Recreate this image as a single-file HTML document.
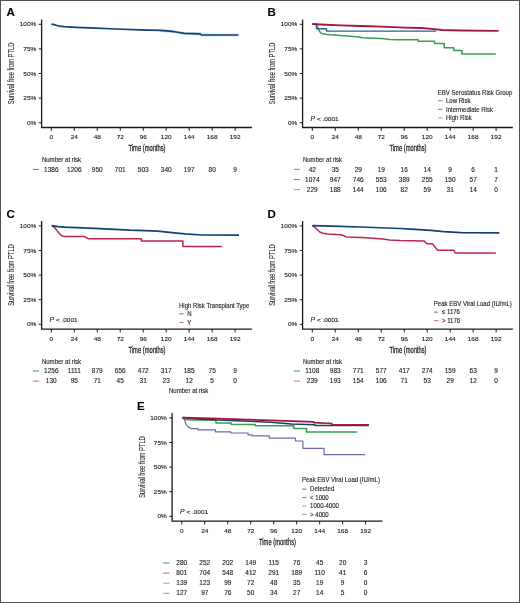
<!DOCTYPE html>
<html><head><meta charset="utf-8"><style>
html,body{margin:0;padding:0;background:#fff;}
svg{display:block;will-change:transform;}
text{font-family:"Liberation Sans", sans-serif;}
.s text{stroke:#1c1c1c;stroke-width:0.12px;}
</style></head><body>
<svg class="s" width="520" height="603" viewBox="0 0 520 603" font-family='"Liberation Sans", sans-serif'>
<rect x="0" y="0" width="520" height="603" fill="#fff"/>
<g transform="translate(0,0)">
<text x="6.5" y="16.2" font-size="11.5" font-weight="bold" fill="#000">A</text>
<text transform="translate(14,73.4) rotate(-90) scale(0.68,1)" text-anchor="middle" font-size="8.5" fill="#222" style="stroke-width:0.1px;stroke:#333">Survival free from PTLD</text>
<path d="M41.6,19.4 V127.5 H251.9" fill="none" stroke="#1a1a1a" stroke-width="1.3"/>
<line x1="38.8" x2="41.6" y1="24.3" y2="24.3" stroke="#1a1a1a" stroke-width="1"/>
<text transform="translate(36.2,26.4) scale(1.06,1)" text-anchor="end" font-size="6.1" fill="#1c1c1c">100%</text>
<line x1="38.8" x2="41.6" y1="48.9" y2="48.9" stroke="#1a1a1a" stroke-width="1"/>
<text transform="translate(36.2,51) scale(1.06,1)" text-anchor="end" font-size="6.1" fill="#1c1c1c">75%</text>
<line x1="38.8" x2="41.6" y1="73.5" y2="73.5" stroke="#1a1a1a" stroke-width="1"/>
<text transform="translate(36.2,75.6) scale(1.06,1)" text-anchor="end" font-size="6.1" fill="#1c1c1c">50%</text>
<line x1="38.8" x2="41.6" y1="98.1" y2="98.1" stroke="#1a1a1a" stroke-width="1"/>
<text transform="translate(36.2,100.2) scale(1.06,1)" text-anchor="end" font-size="6.1" fill="#1c1c1c">25%</text>
<line x1="38.8" x2="41.6" y1="122.7" y2="122.7" stroke="#1a1a1a" stroke-width="1"/>
<text transform="translate(36.2,124.8) scale(1.06,1)" text-anchor="end" font-size="6.1" fill="#1c1c1c">0%</text>
<line x1="51.3" x2="51.3" y1="127.5" y2="130.8" stroke="#1a1a1a" stroke-width="1"/>
<text transform="translate(51.3,139.2) scale(1.06,1)" text-anchor="middle" font-size="6.1" fill="#1c1c1c">0</text>
<line x1="74.28" x2="74.28" y1="127.5" y2="130.8" stroke="#1a1a1a" stroke-width="1"/>
<text transform="translate(74.28,139.2) scale(1.06,1)" text-anchor="middle" font-size="6.1" fill="#1c1c1c">24</text>
<line x1="97.26" x2="97.26" y1="127.5" y2="130.8" stroke="#1a1a1a" stroke-width="1"/>
<text transform="translate(97.26,139.2) scale(1.06,1)" text-anchor="middle" font-size="6.1" fill="#1c1c1c">48</text>
<line x1="120.24" x2="120.24" y1="127.5" y2="130.8" stroke="#1a1a1a" stroke-width="1"/>
<text transform="translate(120.24,139.2) scale(1.06,1)" text-anchor="middle" font-size="6.1" fill="#1c1c1c">72</text>
<line x1="143.22" x2="143.22" y1="127.5" y2="130.8" stroke="#1a1a1a" stroke-width="1"/>
<text transform="translate(143.22,139.2) scale(1.06,1)" text-anchor="middle" font-size="6.1" fill="#1c1c1c">96</text>
<line x1="166.2" x2="166.2" y1="127.5" y2="130.8" stroke="#1a1a1a" stroke-width="1"/>
<text transform="translate(166.2,139.2) scale(1.06,1)" text-anchor="middle" font-size="6.1" fill="#1c1c1c">120</text>
<line x1="189.18" x2="189.18" y1="127.5" y2="130.8" stroke="#1a1a1a" stroke-width="1"/>
<text transform="translate(189.18,139.2) scale(1.06,1)" text-anchor="middle" font-size="6.1" fill="#1c1c1c">144</text>
<line x1="212.16" x2="212.16" y1="127.5" y2="130.8" stroke="#1a1a1a" stroke-width="1"/>
<text transform="translate(212.16,139.2) scale(1.06,1)" text-anchor="middle" font-size="6.1" fill="#1c1c1c">168</text>
<line x1="235.14" x2="235.14" y1="127.5" y2="130.8" stroke="#1a1a1a" stroke-width="1"/>
<text transform="translate(235.14,139.2) scale(1.06,1)" text-anchor="middle" font-size="6.1" fill="#1c1c1c">192</text>
<text transform="translate(147,151.2) scale(0.68,1)" text-anchor="middle" font-size="8.5" fill="#222" style="stroke-width:0.25px;stroke:#222">Time (months)</text>
<path d="M160,30.4 L172,31.4 L176,32 L184.4,33.4 L200,33.9 L201.3,34.8 L238.5,35" fill="none" stroke="#cfe0ef" stroke-width="3.2" stroke-linejoin="round"/>
<path d="M51.4,24.2 L54,24.6 L57,25.5 L60,26.2 L64,26.7 L76,27.4 L96,28.2 L116,29 L140,29.8 L160,30.4 L172,31.4 L176,32 L184.4,33.4 L200,33.9 L201.3,34.8 L238.5,35" fill="none" stroke="#0f4377" stroke-width="1.7" stroke-linejoin="round"/>
<text transform="translate(41.9,161.9) scale(0.93,1)" font-size="6.5" fill="#1c1c1c">Number at risk</text>
<line x1="32.8" x2="38.9" y1="169.4" y2="169.4" stroke="#6384a6" stroke-width="1.1"/>
<text x="51.3" y="171.6" text-anchor="middle" font-size="6.5" fill="#1c1c1c">1386</text>
<text x="74.28" y="171.6" text-anchor="middle" font-size="6.5" fill="#1c1c1c">1206</text>
<text x="97.26" y="171.6" text-anchor="middle" font-size="6.5" fill="#1c1c1c">950</text>
<text x="120.24" y="171.6" text-anchor="middle" font-size="6.5" fill="#1c1c1c">701</text>
<text x="143.22" y="171.6" text-anchor="middle" font-size="6.5" fill="#1c1c1c">503</text>
<text x="166.2" y="171.6" text-anchor="middle" font-size="6.5" fill="#1c1c1c">340</text>
<text x="189.18" y="171.6" text-anchor="middle" font-size="6.5" fill="#1c1c1c">197</text>
<text x="212.16" y="171.6" text-anchor="middle" font-size="6.5" fill="#1c1c1c">80</text>
<text x="235.14" y="171.6" text-anchor="middle" font-size="6.5" fill="#1c1c1c">9</text>
</g>
<g transform="translate(261,0)">
<text x="6.5" y="16.0" font-size="11.5" font-weight="bold" fill="#000">B</text>
<text transform="translate(14,73.4) rotate(-90) scale(0.68,1)" text-anchor="middle" font-size="8.5" fill="#222" style="stroke-width:0.1px;stroke:#333">Survival free from PTLD</text>
<path d="M41.6,19.4 V127.5 H251.9" fill="none" stroke="#1a1a1a" stroke-width="1.3"/>
<line x1="38.8" x2="41.6" y1="24.3" y2="24.3" stroke="#1a1a1a" stroke-width="1"/>
<text transform="translate(36.2,26.4) scale(1.06,1)" text-anchor="end" font-size="6.1" fill="#1c1c1c">100%</text>
<line x1="38.8" x2="41.6" y1="48.9" y2="48.9" stroke="#1a1a1a" stroke-width="1"/>
<text transform="translate(36.2,51) scale(1.06,1)" text-anchor="end" font-size="6.1" fill="#1c1c1c">75%</text>
<line x1="38.8" x2="41.6" y1="73.5" y2="73.5" stroke="#1a1a1a" stroke-width="1"/>
<text transform="translate(36.2,75.6) scale(1.06,1)" text-anchor="end" font-size="6.1" fill="#1c1c1c">50%</text>
<line x1="38.8" x2="41.6" y1="98.1" y2="98.1" stroke="#1a1a1a" stroke-width="1"/>
<text transform="translate(36.2,100.2) scale(1.06,1)" text-anchor="end" font-size="6.1" fill="#1c1c1c">25%</text>
<line x1="38.8" x2="41.6" y1="122.7" y2="122.7" stroke="#1a1a1a" stroke-width="1"/>
<text transform="translate(36.2,124.8) scale(1.06,1)" text-anchor="end" font-size="6.1" fill="#1c1c1c">0%</text>
<line x1="51.3" x2="51.3" y1="127.5" y2="130.8" stroke="#1a1a1a" stroke-width="1"/>
<text transform="translate(51.3,139.2) scale(1.06,1)" text-anchor="middle" font-size="6.1" fill="#1c1c1c">0</text>
<line x1="74.28" x2="74.28" y1="127.5" y2="130.8" stroke="#1a1a1a" stroke-width="1"/>
<text transform="translate(74.28,139.2) scale(1.06,1)" text-anchor="middle" font-size="6.1" fill="#1c1c1c">24</text>
<line x1="97.26" x2="97.26" y1="127.5" y2="130.8" stroke="#1a1a1a" stroke-width="1"/>
<text transform="translate(97.26,139.2) scale(1.06,1)" text-anchor="middle" font-size="6.1" fill="#1c1c1c">48</text>
<line x1="120.24" x2="120.24" y1="127.5" y2="130.8" stroke="#1a1a1a" stroke-width="1"/>
<text transform="translate(120.24,139.2) scale(1.06,1)" text-anchor="middle" font-size="6.1" fill="#1c1c1c">72</text>
<line x1="143.22" x2="143.22" y1="127.5" y2="130.8" stroke="#1a1a1a" stroke-width="1"/>
<text transform="translate(143.22,139.2) scale(1.06,1)" text-anchor="middle" font-size="6.1" fill="#1c1c1c">96</text>
<line x1="166.2" x2="166.2" y1="127.5" y2="130.8" stroke="#1a1a1a" stroke-width="1"/>
<text transform="translate(166.2,139.2) scale(1.06,1)" text-anchor="middle" font-size="6.1" fill="#1c1c1c">120</text>
<line x1="189.18" x2="189.18" y1="127.5" y2="130.8" stroke="#1a1a1a" stroke-width="1"/>
<text transform="translate(189.18,139.2) scale(1.06,1)" text-anchor="middle" font-size="6.1" fill="#1c1c1c">144</text>
<line x1="212.16" x2="212.16" y1="127.5" y2="130.8" stroke="#1a1a1a" stroke-width="1"/>
<text transform="translate(212.16,139.2) scale(1.06,1)" text-anchor="middle" font-size="6.1" fill="#1c1c1c">168</text>
<line x1="235.14" x2="235.14" y1="127.5" y2="130.8" stroke="#1a1a1a" stroke-width="1"/>
<text transform="translate(235.14,139.2) scale(1.06,1)" text-anchor="middle" font-size="6.1" fill="#1c1c1c">192</text>
<text transform="translate(147,151.2) scale(0.68,1)" text-anchor="middle" font-size="8.5" fill="#222" style="stroke-width:0.25px;stroke:#222">Time (months)</text>
<path d="M51.3,24.2 L54,24.3 L55.5,24.8 L56.5,27 L57.5,29.4 L59.4,32.7 L61.3,33.7 L65,34.3 L69,34.8 L82.5,35.8 L97.8,37.1 L101.7,37.7 L120.9,38.5 L128.6,39.4 L139,39.7 L157.3,39.7 L157.3,41.3 L173.6,41.3 L173.6,43.5 L183.2,43.5 L183.2,47.7 L192.8,47.7 L192.8,50.6 L200.9,50.6 L200.9,54 L234.8,54" fill="none" stroke="#34a04c" stroke-width="1.5" stroke-linejoin="round"/>
<path d="M51.3,24.2 L55.5,24.2 L55.5,28.7 L65.5,28.7 L65.5,31.1 L175,31.1" fill="none" stroke="#2c5d94" stroke-width="1.4" stroke-linejoin="round"/>
<path d="M51.3,24 L60,24.5 L80,25.3 L100,26 L120,26.7 L144,27.6 L160,28 L168,28.7 L181.3,30 L200,30.5 L237.5,30.8" fill="none" stroke="#a5163b" stroke-width="1.8" stroke-linejoin="round"/>
<text transform="translate(49.6,120.7) scale(1.06,1)" font-size="6.1" fill="#1c1c1c"><tspan font-style="italic" font-size="6.4">P</tspan> &lt; .0001</text>
<text transform="translate(176.8,94.8) scale(0.93,1)" font-size="6.5" fill="#1c1c1c">EBV Serostatus Risk Group</text>
<line x1="177" x2="181.4" y1="100.7" y2="100.7" stroke="#7595b9" stroke-width="1.1"/>
<text transform="translate(185,103) scale(0.93,1)" font-size="6.5" fill="#1c1c1c">Low Risk</text>
<line x1="177" x2="181.4" y1="109.3" y2="109.3" stroke="#c4677f" stroke-width="1.1"/>
<text transform="translate(185,111.6) scale(0.93,1)" font-size="6.5" fill="#1c1c1c">Intermediate Risk</text>
<line x1="177" x2="181.4" y1="117.9" y2="117.9" stroke="#7bc18a" stroke-width="1.1"/>
<text transform="translate(185,120.2) scale(0.93,1)" font-size="6.5" fill="#1c1c1c">High Risk</text>
<text transform="translate(41.9,161.9) scale(0.93,1)" font-size="6.5" fill="#1c1c1c">Number at risk</text>
<line x1="32.8" x2="38.9" y1="169.4" y2="169.4" stroke="#7595b9" stroke-width="1.1"/>
<text x="51.3" y="171.6" text-anchor="middle" font-size="6.5" fill="#1c1c1c">42</text>
<text x="74.28" y="171.6" text-anchor="middle" font-size="6.5" fill="#1c1c1c">35</text>
<text x="97.26" y="171.6" text-anchor="middle" font-size="6.5" fill="#1c1c1c">29</text>
<text x="120.24" y="171.6" text-anchor="middle" font-size="6.5" fill="#1c1c1c">19</text>
<text x="143.22" y="171.6" text-anchor="middle" font-size="6.5" fill="#1c1c1c">16</text>
<text x="166.2" y="171.6" text-anchor="middle" font-size="6.5" fill="#1c1c1c">14</text>
<text x="189.18" y="171.6" text-anchor="middle" font-size="6.5" fill="#1c1c1c">9</text>
<text x="212.16" y="171.6" text-anchor="middle" font-size="6.5" fill="#1c1c1c">6</text>
<text x="235.14" y="171.6" text-anchor="middle" font-size="6.5" fill="#1c1c1c">1</text>
<line x1="32.8" x2="38.9" y1="179.5" y2="179.5" stroke="#c4677f" stroke-width="1.1"/>
<text x="51.3" y="181.7" text-anchor="middle" font-size="6.5" fill="#1c1c1c">1074</text>
<text x="74.28" y="181.7" text-anchor="middle" font-size="6.5" fill="#1c1c1c">947</text>
<text x="97.26" y="181.7" text-anchor="middle" font-size="6.5" fill="#1c1c1c">746</text>
<text x="120.24" y="181.7" text-anchor="middle" font-size="6.5" fill="#1c1c1c">553</text>
<text x="143.22" y="181.7" text-anchor="middle" font-size="6.5" fill="#1c1c1c">389</text>
<text x="166.2" y="181.7" text-anchor="middle" font-size="6.5" fill="#1c1c1c">255</text>
<text x="189.18" y="181.7" text-anchor="middle" font-size="6.5" fill="#1c1c1c">150</text>
<text x="212.16" y="181.7" text-anchor="middle" font-size="6.5" fill="#1c1c1c">57</text>
<text x="235.14" y="181.7" text-anchor="middle" font-size="6.5" fill="#1c1c1c">7</text>
<line x1="32.8" x2="38.9" y1="189.6" y2="189.6" stroke="#7bc18a" stroke-width="1.1"/>
<text x="51.3" y="191.8" text-anchor="middle" font-size="6.5" fill="#1c1c1c">229</text>
<text x="74.28" y="191.8" text-anchor="middle" font-size="6.5" fill="#1c1c1c">188</text>
<text x="97.26" y="191.8" text-anchor="middle" font-size="6.5" fill="#1c1c1c">144</text>
<text x="120.24" y="191.8" text-anchor="middle" font-size="6.5" fill="#1c1c1c">106</text>
<text x="143.22" y="191.8" text-anchor="middle" font-size="6.5" fill="#1c1c1c">82</text>
<text x="166.2" y="191.8" text-anchor="middle" font-size="6.5" fill="#1c1c1c">59</text>
<text x="189.18" y="191.8" text-anchor="middle" font-size="6.5" fill="#1c1c1c">31</text>
<text x="212.16" y="191.8" text-anchor="middle" font-size="6.5" fill="#1c1c1c">14</text>
<text x="235.14" y="191.8" text-anchor="middle" font-size="6.5" fill="#1c1c1c">0</text>
</g>
<g transform="translate(0,201.6)">
<text x="6.5" y="16.6" font-size="11.5" font-weight="bold" fill="#000">C</text>
<text transform="translate(14,73.4) rotate(-90) scale(0.68,1)" text-anchor="middle" font-size="8.5" fill="#222" style="stroke-width:0.1px;stroke:#333">Survival free from PTLD</text>
<path d="M41.6,19.4 V127.5 H251.9" fill="none" stroke="#1a1a1a" stroke-width="1.3"/>
<line x1="38.8" x2="41.6" y1="24.3" y2="24.3" stroke="#1a1a1a" stroke-width="1"/>
<text transform="translate(36.2,26.4) scale(1.06,1)" text-anchor="end" font-size="6.1" fill="#1c1c1c">100%</text>
<line x1="38.8" x2="41.6" y1="48.9" y2="48.9" stroke="#1a1a1a" stroke-width="1"/>
<text transform="translate(36.2,51) scale(1.06,1)" text-anchor="end" font-size="6.1" fill="#1c1c1c">75%</text>
<line x1="38.8" x2="41.6" y1="73.5" y2="73.5" stroke="#1a1a1a" stroke-width="1"/>
<text transform="translate(36.2,75.6) scale(1.06,1)" text-anchor="end" font-size="6.1" fill="#1c1c1c">50%</text>
<line x1="38.8" x2="41.6" y1="98.1" y2="98.1" stroke="#1a1a1a" stroke-width="1"/>
<text transform="translate(36.2,100.2) scale(1.06,1)" text-anchor="end" font-size="6.1" fill="#1c1c1c">25%</text>
<line x1="38.8" x2="41.6" y1="122.7" y2="122.7" stroke="#1a1a1a" stroke-width="1"/>
<text transform="translate(36.2,124.8) scale(1.06,1)" text-anchor="end" font-size="6.1" fill="#1c1c1c">0%</text>
<line x1="51.3" x2="51.3" y1="127.5" y2="130.8" stroke="#1a1a1a" stroke-width="1"/>
<text transform="translate(51.3,139.2) scale(1.06,1)" text-anchor="middle" font-size="6.1" fill="#1c1c1c">0</text>
<line x1="74.28" x2="74.28" y1="127.5" y2="130.8" stroke="#1a1a1a" stroke-width="1"/>
<text transform="translate(74.28,139.2) scale(1.06,1)" text-anchor="middle" font-size="6.1" fill="#1c1c1c">24</text>
<line x1="97.26" x2="97.26" y1="127.5" y2="130.8" stroke="#1a1a1a" stroke-width="1"/>
<text transform="translate(97.26,139.2) scale(1.06,1)" text-anchor="middle" font-size="6.1" fill="#1c1c1c">48</text>
<line x1="120.24" x2="120.24" y1="127.5" y2="130.8" stroke="#1a1a1a" stroke-width="1"/>
<text transform="translate(120.24,139.2) scale(1.06,1)" text-anchor="middle" font-size="6.1" fill="#1c1c1c">72</text>
<line x1="143.22" x2="143.22" y1="127.5" y2="130.8" stroke="#1a1a1a" stroke-width="1"/>
<text transform="translate(143.22,139.2) scale(1.06,1)" text-anchor="middle" font-size="6.1" fill="#1c1c1c">96</text>
<line x1="166.2" x2="166.2" y1="127.5" y2="130.8" stroke="#1a1a1a" stroke-width="1"/>
<text transform="translate(166.2,139.2) scale(1.06,1)" text-anchor="middle" font-size="6.1" fill="#1c1c1c">120</text>
<line x1="189.18" x2="189.18" y1="127.5" y2="130.8" stroke="#1a1a1a" stroke-width="1"/>
<text transform="translate(189.18,139.2) scale(1.06,1)" text-anchor="middle" font-size="6.1" fill="#1c1c1c">144</text>
<line x1="212.16" x2="212.16" y1="127.5" y2="130.8" stroke="#1a1a1a" stroke-width="1"/>
<text transform="translate(212.16,139.2) scale(1.06,1)" text-anchor="middle" font-size="6.1" fill="#1c1c1c">168</text>
<line x1="235.14" x2="235.14" y1="127.5" y2="130.8" stroke="#1a1a1a" stroke-width="1"/>
<text transform="translate(235.14,139.2) scale(1.06,1)" text-anchor="middle" font-size="6.1" fill="#1c1c1c">192</text>
<text transform="translate(147,151.2) scale(0.68,1)" text-anchor="middle" font-size="8.5" fill="#222" style="stroke-width:0.25px;stroke:#222">Time (months)</text>
<path d="M51.7,24 L54.5,25.9 L57,29 L60.1,32.8 L62,34.3 L64.4,34.9 L84.3,34.9 L86,36 L88.7,37.1 L141.4,37.1 L141.4,39.3 L182.9,39.3 L182.9,45 L221.9,45" fill="none" stroke="#bb2552" stroke-width="1.5" stroke-linejoin="round"/>
<path d="M51.7,24 L58,25 L65,25.6 L100,27 L130,28.6 L145,29 L157.5,29.6 L174.4,31.3 L185,32.3 L201.9,33.4 L239,33.5" fill="none" stroke="#0f4377" stroke-width="1.7" stroke-linejoin="round"/>
<text transform="translate(49.6,120.7) scale(1.06,1)" font-size="6.1" fill="#1c1c1c"><tspan font-style="italic" font-size="6.4">P</tspan> &lt; .0001</text>
<text transform="translate(179,106.7) scale(0.93,1)" font-size="6.5" fill="#1c1c1c">High Risk Transplant Type</text>
<line x1="179.2" x2="183.6" y1="112.2" y2="112.2" stroke="#6384a6" stroke-width="1.1"/>
<text transform="translate(187.2,114.5) scale(0.93,1)" font-size="6.5" fill="#1c1c1c">N</text>
<line x1="179.2" x2="183.6" y1="120.9" y2="120.9" stroke="#d2718e" stroke-width="1.1"/>
<text transform="translate(187.2,123.2) scale(0.93,1)" font-size="6.5" fill="#1c1c1c">Y</text>
<text transform="translate(41.9,161.9) scale(0.93,1)" font-size="6.5" fill="#1c1c1c">Number at risk</text>
<line x1="32.8" x2="38.9" y1="169.4" y2="169.4" stroke="#6384a6" stroke-width="1.1"/>
<text x="51.3" y="171.6" text-anchor="middle" font-size="6.5" fill="#1c1c1c">1256</text>
<text x="74.28" y="171.6" text-anchor="middle" font-size="6.5" fill="#1c1c1c">1111</text>
<text x="97.26" y="171.6" text-anchor="middle" font-size="6.5" fill="#1c1c1c">879</text>
<text x="120.24" y="171.6" text-anchor="middle" font-size="6.5" fill="#1c1c1c">656</text>
<text x="143.22" y="171.6" text-anchor="middle" font-size="6.5" fill="#1c1c1c">472</text>
<text x="166.2" y="171.6" text-anchor="middle" font-size="6.5" fill="#1c1c1c">317</text>
<text x="189.18" y="171.6" text-anchor="middle" font-size="6.5" fill="#1c1c1c">185</text>
<text x="212.16" y="171.6" text-anchor="middle" font-size="6.5" fill="#1c1c1c">75</text>
<text x="235.14" y="171.6" text-anchor="middle" font-size="6.5" fill="#1c1c1c">9</text>
<line x1="32.8" x2="38.9" y1="179.5" y2="179.5" stroke="#d2718e" stroke-width="1.1"/>
<text x="51.3" y="181.7" text-anchor="middle" font-size="6.5" fill="#1c1c1c">130</text>
<text x="74.28" y="181.7" text-anchor="middle" font-size="6.5" fill="#1c1c1c">95</text>
<text x="97.26" y="181.7" text-anchor="middle" font-size="6.5" fill="#1c1c1c">71</text>
<text x="120.24" y="181.7" text-anchor="middle" font-size="6.5" fill="#1c1c1c">45</text>
<text x="143.22" y="181.7" text-anchor="middle" font-size="6.5" fill="#1c1c1c">31</text>
<text x="166.2" y="181.7" text-anchor="middle" font-size="6.5" fill="#1c1c1c">23</text>
<text x="189.18" y="181.7" text-anchor="middle" font-size="6.5" fill="#1c1c1c">12</text>
<text x="212.16" y="181.7" text-anchor="middle" font-size="6.5" fill="#1c1c1c">5</text>
<text x="235.14" y="181.7" text-anchor="middle" font-size="6.5" fill="#1c1c1c">0</text>
<text transform="translate(169,191.2) scale(0.93,1)" font-size="6.5" fill="#1c1c1c">Number at risk</text>
</g>
<g transform="translate(261,201.6)">
<text x="6.5" y="16.6" font-size="11.5" font-weight="bold" fill="#000">D</text>
<text transform="translate(14,73.4) rotate(-90) scale(0.68,1)" text-anchor="middle" font-size="8.5" fill="#222" style="stroke-width:0.1px;stroke:#333">Survival free from PTLD</text>
<path d="M41.6,19.4 V127.5 H251.9" fill="none" stroke="#1a1a1a" stroke-width="1.3"/>
<line x1="38.8" x2="41.6" y1="24.3" y2="24.3" stroke="#1a1a1a" stroke-width="1"/>
<text transform="translate(36.2,26.4) scale(1.06,1)" text-anchor="end" font-size="6.1" fill="#1c1c1c">100%</text>
<line x1="38.8" x2="41.6" y1="48.9" y2="48.9" stroke="#1a1a1a" stroke-width="1"/>
<text transform="translate(36.2,51) scale(1.06,1)" text-anchor="end" font-size="6.1" fill="#1c1c1c">75%</text>
<line x1="38.8" x2="41.6" y1="73.5" y2="73.5" stroke="#1a1a1a" stroke-width="1"/>
<text transform="translate(36.2,75.6) scale(1.06,1)" text-anchor="end" font-size="6.1" fill="#1c1c1c">50%</text>
<line x1="38.8" x2="41.6" y1="98.1" y2="98.1" stroke="#1a1a1a" stroke-width="1"/>
<text transform="translate(36.2,100.2) scale(1.06,1)" text-anchor="end" font-size="6.1" fill="#1c1c1c">25%</text>
<line x1="38.8" x2="41.6" y1="122.7" y2="122.7" stroke="#1a1a1a" stroke-width="1"/>
<text transform="translate(36.2,124.8) scale(1.06,1)" text-anchor="end" font-size="6.1" fill="#1c1c1c">0%</text>
<line x1="51.3" x2="51.3" y1="127.5" y2="130.8" stroke="#1a1a1a" stroke-width="1"/>
<text transform="translate(51.3,139.2) scale(1.06,1)" text-anchor="middle" font-size="6.1" fill="#1c1c1c">0</text>
<line x1="74.28" x2="74.28" y1="127.5" y2="130.8" stroke="#1a1a1a" stroke-width="1"/>
<text transform="translate(74.28,139.2) scale(1.06,1)" text-anchor="middle" font-size="6.1" fill="#1c1c1c">24</text>
<line x1="97.26" x2="97.26" y1="127.5" y2="130.8" stroke="#1a1a1a" stroke-width="1"/>
<text transform="translate(97.26,139.2) scale(1.06,1)" text-anchor="middle" font-size="6.1" fill="#1c1c1c">48</text>
<line x1="120.24" x2="120.24" y1="127.5" y2="130.8" stroke="#1a1a1a" stroke-width="1"/>
<text transform="translate(120.24,139.2) scale(1.06,1)" text-anchor="middle" font-size="6.1" fill="#1c1c1c">72</text>
<line x1="143.22" x2="143.22" y1="127.5" y2="130.8" stroke="#1a1a1a" stroke-width="1"/>
<text transform="translate(143.22,139.2) scale(1.06,1)" text-anchor="middle" font-size="6.1" fill="#1c1c1c">96</text>
<line x1="166.2" x2="166.2" y1="127.5" y2="130.8" stroke="#1a1a1a" stroke-width="1"/>
<text transform="translate(166.2,139.2) scale(1.06,1)" text-anchor="middle" font-size="6.1" fill="#1c1c1c">120</text>
<line x1="189.18" x2="189.18" y1="127.5" y2="130.8" stroke="#1a1a1a" stroke-width="1"/>
<text transform="translate(189.18,139.2) scale(1.06,1)" text-anchor="middle" font-size="6.1" fill="#1c1c1c">144</text>
<line x1="212.16" x2="212.16" y1="127.5" y2="130.8" stroke="#1a1a1a" stroke-width="1"/>
<text transform="translate(212.16,139.2) scale(1.06,1)" text-anchor="middle" font-size="6.1" fill="#1c1c1c">168</text>
<line x1="235.14" x2="235.14" y1="127.5" y2="130.8" stroke="#1a1a1a" stroke-width="1"/>
<text transform="translate(235.14,139.2) scale(1.06,1)" text-anchor="middle" font-size="6.1" fill="#1c1c1c">192</text>
<text transform="translate(147,151.2) scale(0.68,1)" text-anchor="middle" font-size="8.5" fill="#222" style="stroke-width:0.25px;stroke:#222">Time (months)</text>
<path d="M51.3,24 L53,25 L55,26.7 L57,28.9 L59.4,30.7 L62,31.6 L66.3,32.5 L80.1,33.2 L83,34.2 L85.3,35.4 L100.9,35.9 L111.3,36.6 L121.7,37.5 L128.6,38.5 L139,39 L163.2,39.5 L165.9,42.2 L171.3,42.2 L176.7,48.6 L192.8,48.6 L194.2,51.3 L234.8,51.3" fill="none" stroke="#bb2552" stroke-width="1.5" stroke-linejoin="round"/>
<path d="M51.3,24 L70,24.6 L100,25.4 L139,26.9 L150,27.6 L170,28.8 L182.4,30 L200.3,31.1 L238.4,31.2" fill="none" stroke="#0f4377" stroke-width="1.7" stroke-linejoin="round"/>
<text transform="translate(49.6,120.7) scale(1.06,1)" font-size="6.1" fill="#1c1c1c"><tspan font-style="italic" font-size="6.4">P</tspan> &lt; .0001</text>
<text transform="translate(172.8,104.1) scale(0.93,1)" font-size="6.5" fill="#1c1c1c">Peak EBV Viral Load (IU/mL)</text>
<line x1="173" x2="177.4" y1="110.5" y2="110.5" stroke="#6384a6" stroke-width="1.1"/>
<text transform="translate(181,112.8) scale(0.93,1)" font-size="6.5" fill="#1c1c1c">&#8804; 1176</text>
<line x1="173" x2="177.4" y1="119.1" y2="119.1" stroke="#d2718e" stroke-width="1.1"/>
<text transform="translate(181,121.4) scale(0.93,1)" font-size="6.5" fill="#1c1c1c">&gt; 1176</text>
<text transform="translate(41.9,161.9) scale(0.93,1)" font-size="6.5" fill="#1c1c1c">Number at risk</text>
<line x1="32.8" x2="38.9" y1="169.4" y2="169.4" stroke="#6384a6" stroke-width="1.1"/>
<text x="51.3" y="171.6" text-anchor="middle" font-size="6.5" fill="#1c1c1c">1108</text>
<text x="74.28" y="171.6" text-anchor="middle" font-size="6.5" fill="#1c1c1c">983</text>
<text x="97.26" y="171.6" text-anchor="middle" font-size="6.5" fill="#1c1c1c">771</text>
<text x="120.24" y="171.6" text-anchor="middle" font-size="6.5" fill="#1c1c1c">577</text>
<text x="143.22" y="171.6" text-anchor="middle" font-size="6.5" fill="#1c1c1c">417</text>
<text x="166.2" y="171.6" text-anchor="middle" font-size="6.5" fill="#1c1c1c">274</text>
<text x="189.18" y="171.6" text-anchor="middle" font-size="6.5" fill="#1c1c1c">159</text>
<text x="212.16" y="171.6" text-anchor="middle" font-size="6.5" fill="#1c1c1c">63</text>
<text x="235.14" y="171.6" text-anchor="middle" font-size="6.5" fill="#1c1c1c">9</text>
<line x1="32.8" x2="38.9" y1="179.5" y2="179.5" stroke="#d2718e" stroke-width="1.1"/>
<text x="51.3" y="181.7" text-anchor="middle" font-size="6.5" fill="#1c1c1c">239</text>
<text x="74.28" y="181.7" text-anchor="middle" font-size="6.5" fill="#1c1c1c">193</text>
<text x="97.26" y="181.7" text-anchor="middle" font-size="6.5" fill="#1c1c1c">154</text>
<text x="120.24" y="181.7" text-anchor="middle" font-size="6.5" fill="#1c1c1c">106</text>
<text x="143.22" y="181.7" text-anchor="middle" font-size="6.5" fill="#1c1c1c">71</text>
<text x="166.2" y="181.7" text-anchor="middle" font-size="6.5" fill="#1c1c1c">53</text>
<text x="189.18" y="181.7" text-anchor="middle" font-size="6.5" fill="#1c1c1c">29</text>
<text x="212.16" y="181.7" text-anchor="middle" font-size="6.5" fill="#1c1c1c">12</text>
<text x="235.14" y="181.7" text-anchor="middle" font-size="6.5" fill="#1c1c1c">0</text>
</g>
<g transform="translate(130.5,393.6)">
<text x="6.5" y="16.1" font-size="11.5" font-weight="bold" fill="#000">E</text>
<text transform="translate(14,73.4) rotate(-90) scale(0.68,1)" text-anchor="middle" font-size="8.5" fill="#222" style="stroke-width:0.1px;stroke:#333">Survival free from PTLD</text>
<path d="M41.6,19.4 V127.5 H251.9" fill="none" stroke="#1a1a1a" stroke-width="1.3"/>
<line x1="38.8" x2="41.6" y1="24.3" y2="24.3" stroke="#1a1a1a" stroke-width="1"/>
<text transform="translate(36.2,26.4) scale(1.06,1)" text-anchor="end" font-size="6.1" fill="#1c1c1c">100%</text>
<line x1="38.8" x2="41.6" y1="48.9" y2="48.9" stroke="#1a1a1a" stroke-width="1"/>
<text transform="translate(36.2,51) scale(1.06,1)" text-anchor="end" font-size="6.1" fill="#1c1c1c">75%</text>
<line x1="38.8" x2="41.6" y1="73.5" y2="73.5" stroke="#1a1a1a" stroke-width="1"/>
<text transform="translate(36.2,75.6) scale(1.06,1)" text-anchor="end" font-size="6.1" fill="#1c1c1c">50%</text>
<line x1="38.8" x2="41.6" y1="98.1" y2="98.1" stroke="#1a1a1a" stroke-width="1"/>
<text transform="translate(36.2,100.2) scale(1.06,1)" text-anchor="end" font-size="6.1" fill="#1c1c1c">25%</text>
<line x1="38.8" x2="41.6" y1="122.7" y2="122.7" stroke="#1a1a1a" stroke-width="1"/>
<text transform="translate(36.2,124.8) scale(1.06,1)" text-anchor="end" font-size="6.1" fill="#1c1c1c">0%</text>
<line x1="51.3" x2="51.3" y1="127.5" y2="130.8" stroke="#1a1a1a" stroke-width="1"/>
<text transform="translate(51.3,139.2) scale(1.06,1)" text-anchor="middle" font-size="6.1" fill="#1c1c1c">0</text>
<line x1="74.28" x2="74.28" y1="127.5" y2="130.8" stroke="#1a1a1a" stroke-width="1"/>
<text transform="translate(74.28,139.2) scale(1.06,1)" text-anchor="middle" font-size="6.1" fill="#1c1c1c">24</text>
<line x1="97.26" x2="97.26" y1="127.5" y2="130.8" stroke="#1a1a1a" stroke-width="1"/>
<text transform="translate(97.26,139.2) scale(1.06,1)" text-anchor="middle" font-size="6.1" fill="#1c1c1c">48</text>
<line x1="120.24" x2="120.24" y1="127.5" y2="130.8" stroke="#1a1a1a" stroke-width="1"/>
<text transform="translate(120.24,139.2) scale(1.06,1)" text-anchor="middle" font-size="6.1" fill="#1c1c1c">72</text>
<line x1="143.22" x2="143.22" y1="127.5" y2="130.8" stroke="#1a1a1a" stroke-width="1"/>
<text transform="translate(143.22,139.2) scale(1.06,1)" text-anchor="middle" font-size="6.1" fill="#1c1c1c">96</text>
<line x1="166.2" x2="166.2" y1="127.5" y2="130.8" stroke="#1a1a1a" stroke-width="1"/>
<text transform="translate(166.2,139.2) scale(1.06,1)" text-anchor="middle" font-size="6.1" fill="#1c1c1c">120</text>
<line x1="189.18" x2="189.18" y1="127.5" y2="130.8" stroke="#1a1a1a" stroke-width="1"/>
<text transform="translate(189.18,139.2) scale(1.06,1)" text-anchor="middle" font-size="6.1" fill="#1c1c1c">144</text>
<line x1="212.16" x2="212.16" y1="127.5" y2="130.8" stroke="#1a1a1a" stroke-width="1"/>
<text transform="translate(212.16,139.2) scale(1.06,1)" text-anchor="middle" font-size="6.1" fill="#1c1c1c">168</text>
<line x1="235.14" x2="235.14" y1="127.5" y2="130.8" stroke="#1a1a1a" stroke-width="1"/>
<text transform="translate(235.14,139.2) scale(1.06,1)" text-anchor="middle" font-size="6.1" fill="#1c1c1c">192</text>
<text transform="translate(147,151.2) scale(0.68,1)" text-anchor="middle" font-size="8.5" fill="#222" style="stroke-width:0.25px;stroke:#222">Time (months)</text>
<path d="M51.9,24 L53.6,25.7 L55.6,30.7 L57.6,33.2 L60.9,35 L67.6,35 L67.6,36.3 L85,36.3 L85,38.2 L100.4,38.2 L100.4,39.4 L117.6,39.4 L117.6,41.3 L121.6,41.3 L121.6,42.3 L138.8,42.3 L138.8,44.6 L165,44.6 L165,47.4 L172.4,47.4 L172.4,54.8 L193.6,54.8 L193.6,61.1 L234.8,61.1" fill="none" stroke="#6f68ad" stroke-width="1.2" stroke-linejoin="round"/>
<path d="M52,24 L55,25.8 L60,26.4 L85.4,26.4 L85.4,29.3 L100.8,29.3 L100.8,30.8 L124.8,30.8 L124.8,32.2 L163.3,32.2 L163.3,34.8 L176,34.8 L176,38.4 L226.7,38.4" fill="none" stroke="#34a04c" stroke-width="1.5" stroke-linejoin="round"/>
<path d="M52,24 L70,25.6 L100,26.8 L140,28.6 L161,30.3 L184.4,31.2 L184.4,32 L238.4,32" fill="none" stroke="#1d3d6b" stroke-width="1.5" stroke-linejoin="round"/>
<path d="M52,24 L80,24.8 L110,25.8 L140,26.7 L183.4,28.3 L183.4,29.1 L201.3,29.9 L201.3,31.2 L238.4,31.2" fill="none" stroke="#a5163b" stroke-width="1.7" stroke-linejoin="round"/>
<text transform="translate(49.6,120.7) scale(1.06,1)" font-size="6.1" fill="#1c1c1c"><tspan font-style="italic" font-size="6.4">P</tspan> &lt; .0001</text>
<text transform="translate(171.4,88.7) scale(0.93,1)" font-size="6.5" fill="#1c1c1c">Peak EBV Viral Load (IU/mL)</text>
<line x1="171.6" x2="176" y1="95.5" y2="95.5" stroke="#6c809e" stroke-width="1.1"/>
<text transform="translate(179.6,97.8) scale(0.93,1)" font-size="6.5" fill="#1c1c1c">Detected</text>
<line x1="171.6" x2="176" y1="103.9" y2="103.9" stroke="#c4677f" stroke-width="1.1"/>
<text transform="translate(179.6,106.2) scale(0.93,1)" font-size="6.5" fill="#1c1c1c">&lt; 1000</text>
<line x1="171.6" x2="176" y1="112.4" y2="112.4" stroke="#7bc18a" stroke-width="1.1"/>
<text transform="translate(179.6,114.7) scale(0.93,1)" font-size="6.5" fill="#1c1c1c">1000-4000</text>
<line x1="171.6" x2="176" y1="120.7" y2="120.7" stroke="#a19cc9" stroke-width="1.1"/>
<text transform="translate(179.6,123) scale(0.93,1)" font-size="6.5" fill="#1c1c1c">&gt; 4000</text>
<line x1="32.8" x2="38.9" y1="169.4" y2="169.4" stroke="#6c809e" stroke-width="1.1"/>
<text x="51.3" y="171.6" text-anchor="middle" font-size="6.5" fill="#1c1c1c">280</text>
<text x="74.28" y="171.6" text-anchor="middle" font-size="6.5" fill="#1c1c1c">252</text>
<text x="97.26" y="171.6" text-anchor="middle" font-size="6.5" fill="#1c1c1c">202</text>
<text x="120.24" y="171.6" text-anchor="middle" font-size="6.5" fill="#1c1c1c">149</text>
<text x="143.22" y="171.6" text-anchor="middle" font-size="6.5" fill="#1c1c1c">115</text>
<text x="166.2" y="171.6" text-anchor="middle" font-size="6.5" fill="#1c1c1c">76</text>
<text x="189.18" y="171.6" text-anchor="middle" font-size="6.5" fill="#1c1c1c">45</text>
<text x="212.16" y="171.6" text-anchor="middle" font-size="6.5" fill="#1c1c1c">20</text>
<text x="235.14" y="171.6" text-anchor="middle" font-size="6.5" fill="#1c1c1c">3</text>
<line x1="32.8" x2="38.9" y1="179.5" y2="179.5" stroke="#c4677f" stroke-width="1.1"/>
<text x="51.3" y="181.7" text-anchor="middle" font-size="6.5" fill="#1c1c1c">801</text>
<text x="74.28" y="181.7" text-anchor="middle" font-size="6.5" fill="#1c1c1c">704</text>
<text x="97.26" y="181.7" text-anchor="middle" font-size="6.5" fill="#1c1c1c">548</text>
<text x="120.24" y="181.7" text-anchor="middle" font-size="6.5" fill="#1c1c1c">412</text>
<text x="143.22" y="181.7" text-anchor="middle" font-size="6.5" fill="#1c1c1c">291</text>
<text x="166.2" y="181.7" text-anchor="middle" font-size="6.5" fill="#1c1c1c">189</text>
<text x="189.18" y="181.7" text-anchor="middle" font-size="6.5" fill="#1c1c1c">110</text>
<text x="212.16" y="181.7" text-anchor="middle" font-size="6.5" fill="#1c1c1c">41</text>
<text x="235.14" y="181.7" text-anchor="middle" font-size="6.5" fill="#1c1c1c">6</text>
<line x1="32.8" x2="38.9" y1="189.6" y2="189.6" stroke="#7bc18a" stroke-width="1.1"/>
<text x="51.3" y="191.8" text-anchor="middle" font-size="6.5" fill="#1c1c1c">139</text>
<text x="74.28" y="191.8" text-anchor="middle" font-size="6.5" fill="#1c1c1c">123</text>
<text x="97.26" y="191.8" text-anchor="middle" font-size="6.5" fill="#1c1c1c">99</text>
<text x="120.24" y="191.8" text-anchor="middle" font-size="6.5" fill="#1c1c1c">72</text>
<text x="143.22" y="191.8" text-anchor="middle" font-size="6.5" fill="#1c1c1c">48</text>
<text x="166.2" y="191.8" text-anchor="middle" font-size="6.5" fill="#1c1c1c">35</text>
<text x="189.18" y="191.8" text-anchor="middle" font-size="6.5" fill="#1c1c1c">19</text>
<text x="212.16" y="191.8" text-anchor="middle" font-size="6.5" fill="#1c1c1c">9</text>
<text x="235.14" y="191.8" text-anchor="middle" font-size="6.5" fill="#1c1c1c">0</text>
<line x1="32.8" x2="38.9" y1="199.7" y2="199.7" stroke="#a19cc9" stroke-width="1.1"/>
<text x="51.3" y="201.9" text-anchor="middle" font-size="6.5" fill="#1c1c1c">127</text>
<text x="74.28" y="201.9" text-anchor="middle" font-size="6.5" fill="#1c1c1c">97</text>
<text x="97.26" y="201.9" text-anchor="middle" font-size="6.5" fill="#1c1c1c">76</text>
<text x="120.24" y="201.9" text-anchor="middle" font-size="6.5" fill="#1c1c1c">50</text>
<text x="143.22" y="201.9" text-anchor="middle" font-size="6.5" fill="#1c1c1c">34</text>
<text x="166.2" y="201.9" text-anchor="middle" font-size="6.5" fill="#1c1c1c">27</text>
<text x="189.18" y="201.9" text-anchor="middle" font-size="6.5" fill="#1c1c1c">14</text>
<text x="212.16" y="201.9" text-anchor="middle" font-size="6.5" fill="#1c1c1c">5</text>
<text x="235.14" y="201.9" text-anchor="middle" font-size="6.5" fill="#1c1c1c">0</text>
</g>
<rect x="0.5" y="0.5" width="519" height="602" fill="none" stroke="#525252" stroke-width="1"/>
</svg>
</body></html>
